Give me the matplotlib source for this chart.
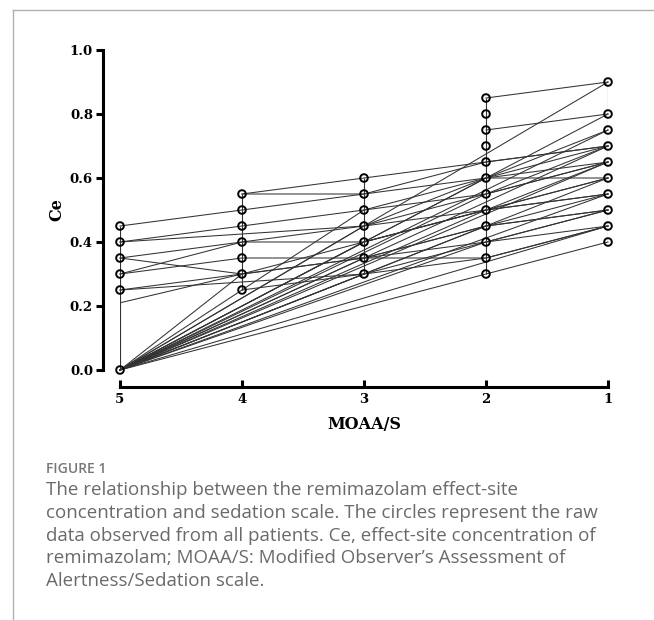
import matplotlib
matplotlib.use("Agg")
import matplotlib.pyplot as plt
from matplotlib.lines import Line2D

# MOAA/S level and Ce (one list per patient)
moaas_levels = [5, 4, 3, 2, 1]
patients = [
    # from 0 at MOAA/S 5 straight to level 1
    [(5, 0.0), (1, 0.90)],
    [(5, 0.0), (1, 0.80)],
    [(5, 0.0), (1, 0.75)],
    [(5, 0.0), (1, 0.70)],
    [(5, 0.0), (1, 0.65)],
    [(5, 0.0), (1, 0.60)],
    [(5, 0.0), (1, 0.55)],
    [(5, 0.0), (1, 0.45)],
    # from 0 to level 2
    [(5, 0.0), (2, 0.60), (1, 0.65)],
    [(5, 0.0), (2, 0.55), (1, 0.70)],
    [(5, 0.0), (2, 0.50), (1, 0.60)],
    [(5, 0.0), (2, 0.45), (1, 0.55)],
    [(5, 0.0), (2, 0.40), (1, 0.50)],
    [(5, 0.0), (2, 0.30), (1, 0.40)],
    # from 0 to level 3
    [(5, 0.0), (3, 0.50), (2, 0.60), (1, 0.70)],
    [(5, 0.0), (3, 0.45), (2, 0.55), (1, 0.65)],
    [(5, 0.0), (3, 0.40), (2, 0.50), (1, 0.55)],
    [(5, 0.0), (3, 0.35), (2, 0.45), (1, 0.50)],
    [(5, 0.0), (3, 0.30), (2, 0.40), (1, 0.45)],
    [(5, 0.0), (4, 0.30), (3, 0.40), (2, 0.50), (1, 0.65)],
    # non-zero start
    [(5, 0.45), (4, 0.50), (3, 0.55), (2, 0.65), (1, 0.70)],
    [(5, 0.40), (4, 0.45), (3, 0.50), (2, 0.55), (1, 0.65)],
    [(5, 0.40), (3, 0.45), (2, 0.50), (1, 0.60)],
    [(5, 0.35), (4, 0.40), (3, 0.45), (2, 0.60), (1, 0.75)],
    [(5, 0.35), (4, 0.30), (3, 0.35), (2, 0.45), (1, 0.50)],
    [(5, 0.30), (4, 0.40), (3, 0.40), (2, 0.50), (1, 0.55)],
    [(5, 0.30), (4, 0.35), (3, 0.35), (2, 0.40), (1, 0.50)],
    [(5, 0.25), (4, 0.30), (3, 0.35), (2, 0.35), (1, 0.45)],
    [(5, 0.25), (3, 0.30), (2, 0.35), (1, 0.45)],
    [(4, 0.55), (3, 0.60), (2, 0.65), (1, 0.70)],
    [(4, 0.55), (3, 0.55), (2, 0.60), (1, 0.60)],
    [(4, 0.25), (3, 0.30)],
    [(2, 0.85), (1, 0.90)],
    [(2, 0.75), (1, 0.80)],
    [(2, 0.80)],
    [(2, 0.70)],
]
# segment seen without a circle at its start
partial = [(5, 0.21), (4, 0.30)]

caption_head = "FIGURE 1"
caption = ("The relationship between the remimazolam effect-site\n"
           "concentration and sedation scale. The circles represent the raw\n"
           "data observed from all patients. Ce, effect-site concentration of\n"
           "remimazolam; MOAA/S: Modified Observer\u2019s Assessment of\n"
           "Alertness/Sedation scale.")

W, H = 654, 620
fig = plt.figure(figsize=(W / 100, H / 100), dpi=100)

# page frame (top and left rule)
fig.add_artist(Line2D([13 / W, 1], [1 - 10 / H, 1 - 10 / H], color="#b0b0b0", lw=1))
fig.add_artist(Line2D([13 / W, 13 / W], [0, 1 - 10 / H], color="#b0b0b0", lw=1))

ax = fig.add_axes([120 / W, 1 - 370 / H, 488 / W, 320 / H])

# vertical connectors inside each level
for lv in moaas_levels:
    ys = [y for p in patients for x, y in p if x == lv]
    ax.vlines(lv, min(ys), max(ys), color="#333333", lw=0.8, zorder=1)

for p in patients:
    xs = [x for x, y in p]
    ys = [y for x, y in p]
    ax.plot(xs, ys, color="#333333", lw=0.75, zorder=2, clip_on=False)
ax.plot([x for x, y in partial], [y for x, y in partial], color="#333333", lw=0.75, zorder=2)

pts = sorted(set((x, y) for p in patients for x, y in p))
ax.scatter([x for x, y in pts], [y for x, y in pts], s=30, facecolors="none",
           edgecolors="black", linewidths=1.4, zorder=3, clip_on=False)

ax.set_xlim(5, 1)
ax.set_ylim(0, 1.0)
ax.set_xticks(moaas_levels)
ax.set_xticklabels([str(v) for v in moaas_levels])
ax.set_yticks([0, 0.2, 0.4, 0.6, 0.8, 1.0])
ax.set_yticklabels(["0.0", "0.2", "0.4", "0.6", "0.8", "1.0"])

for s in ["top", "right"]:
    ax.spines[s].set_visible(False)
for s in ["left", "bottom"]:
    ax.spines[s].set_linewidth(2.2)
    ax.spines[s].set_position(("outward", 12.5))

ax.tick_params(axis="y", direction="out", length=5, width=2.2, pad=2)
ax.tick_params(axis="x", direction="in", length=5, width=2.2, pad=4)
for lab in ax.get_xticklabels() + ax.get_yticklabels():
    lab.set_fontfamily("DejaVu Serif")
    lab.set_fontweight("bold")
    lab.set_fontsize(9.5)

ax.set_xlabel("MOAA/S", fontfamily="DejaVu Serif", fontweight="bold", fontsize=11.5, labelpad=7)
ax.set_ylabel("Ce", fontfamily="DejaVu Serif", fontweight="bold", fontsize=11.5, labelpad=3)

fig.text(46 / W, 1 - 469 / H, caption_head, fontfamily="Open Sans", fontsize=10,
         fontweight="semibold", color="#777777", va="center")
fig.text(46 / W, 1 - 481 / H, caption, fontfamily="Open Sans", fontsize=13.5,
         color="#6a6a6a", va="top", linespacing=1.34)

fig.savefig("out.png", dpi=100)
